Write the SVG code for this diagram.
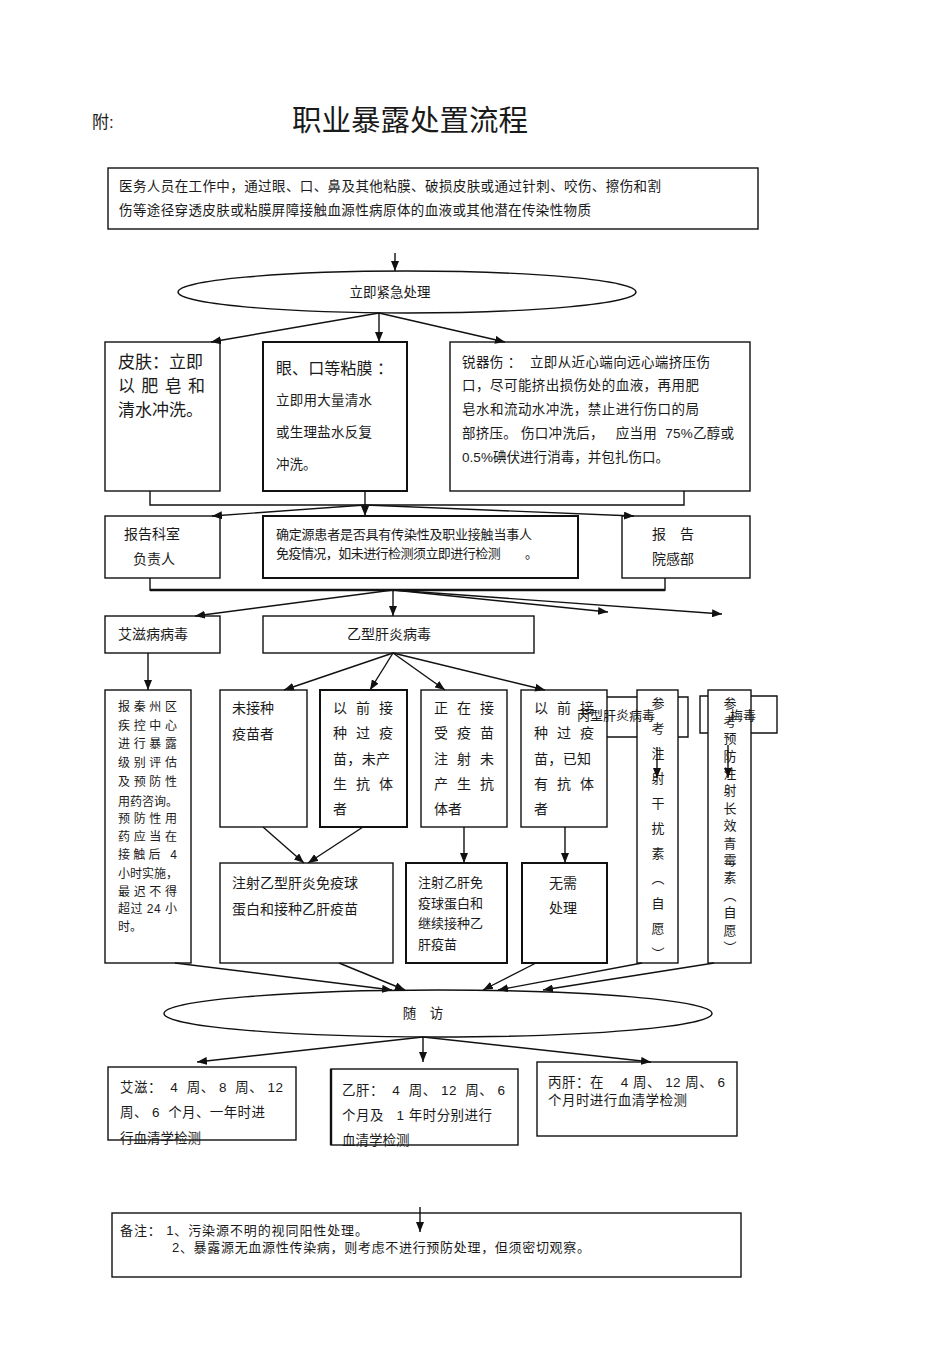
<svg xmlns="http://www.w3.org/2000/svg" width="950" height="1345" viewBox="0 0 950 1345">
<style>
.t{font-family:"Liberation Sans","Noto Sans CJK SC",sans-serif;font-size:13.5px;fill:#1a1a1a;white-space:pre}
.b{fill:#fff;stroke:#111;stroke-width:1.4}
.bk{fill:#fff;stroke:#111;stroke-width:2}
.c{fill:none;stroke:#111;stroke-width:1.4}
.ca{fill:none;stroke:#111;stroke-width:1.4;marker-end:url(#ah)}
.v{font-family:"Liberation Sans","Noto Sans CJK SC",sans-serif;font-size:13px;fill:#1a1a1a;writing-mode:vertical-rl}
</style>
<defs>
<marker id="ah" viewBox="0 0 10 8" refX="10" refY="4" markerWidth="10" markerHeight="8" orient="auto" markerUnits="userSpaceOnUse"><path d="M0,0 L10,4 L0,8 z" fill="#111"/></marker>
</defs>
<rect width="950" height="1345" fill="#fff"/>

<g id="title">
<text class="t" x="92" y="128" style="font-size:17px">附:</text>
<text class="t" x="292" y="131" style="font-size:29px" textLength="236" lengthAdjust="spacingAndGlyphs">职业暴露处置流程</text>
</g>

<g id="n-intro">
<rect class="b" x="108" y="168" width="650" height="61"/>
<text class="t" x="119" y="191" textLength="542">医务人员在工作中，通过眼、口、鼻及其他粘膜、破损皮肤或通过针刺、咬伤、擦伤和割</text>
<text class="t" x="119" y="215" textLength="472">伤等途径穿透皮肤或粘膜屏障接触血源性病原体的血液或其他潜在传染性物质</text>
</g>

<g id="n-emergency">
<ellipse class="b" cx="407" cy="292" rx="229" ry="21"/>
<text class="t" x="390" y="297" text-anchor="middle">立即紧急处理</text>
</g>

<g id="n-skin">
<rect class="b" x="105" y="342" width="115" height="149"/>
<text class="t" x="118" y="368" style="font-size:17px" textLength="85">皮肤：立即</text>
<text class="t" x="118" y="392" style="font-size:17px" textLength="87">以肥皂和</text>
<text class="t" x="118" y="416" style="font-size:17px">清水冲洗。</text>
</g>

<g id="n-mucosa">
<rect class="bk" x="263" y="342" width="144" height="149"/>
<text class="t" x="276" y="374" style="font-size:16px" textLength="117">眼、口等粘膜 ：</text>
<text class="t" x="276" y="405" textLength="96">立即用大量清水</text>
<text class="t" x="276" y="437" textLength="96">或生理盐水反复</text>
<text class="t" x="276" y="469">冲洗。</text>
</g>

<g id="n-sharp">
<rect class="b" x="450" y="342" width="300" height="149"/>
<text class="t" x="462" y="367" textLength="248">锐器伤 ：  立即从近心端向远心端挤压伤</text>
<text class="t" x="462" y="390" textLength="237">口，尽可能挤出损伤处的血液，再用肥</text>
<text class="t" x="462" y="414" textLength="237">皂水和流动水冲洗，禁止进行伤口的局</text>
<text class="t" x="462" y="438" textLength="272">部挤压。 伤口冲洗后，   应当用  75%乙醇或</text>
<text class="t" x="462" y="462" textLength="207">0.5%碘伏进行消毒，并包扎伤口。</text>
</g>

<g id="n-report-dept">
<rect class="b" x="105" y="516" width="115" height="62"/>
<text class="t" x="124" y="539" style="font-size:14px">报告科室</text>
<text class="t" x="133" y="564" style="font-size:14px">负责人</text>
</g>

<g id="n-confirm">
<rect class="bk" x="263" y="516" width="315" height="62"/>
<text class="t" x="276" y="539" style="font-size:13px" textLength="256">确定源患者是否具有传染性及职业接触当事人</text>
<text class="t" x="276" y="558" style="font-size:13px" textLength="262">免疫情况，如未进行检测须立即进行检测　　。</text>
</g>

<g id="n-report-infect">
<rect class="b" x="622" y="516" width="128" height="62"/>
<text class="t" x="652" y="539" style="font-size:14px">报　告</text>
<text class="t" x="652" y="564" style="font-size:14px">院感部</text>
</g>

<g id="n-hiv">
<rect class="b" x="105" y="616" width="115" height="37"/>
<text class="t" x="118" y="639" style="font-size:14px">艾滋病病毒</text>
</g>

<g id="n-hbv">
<rect class="b" x="263" y="616" width="271" height="37"/>
<text class="t" x="347" y="639" style="font-size:14px">乙型肝炎病毒</text>
</g>

<g id="n-hiv-report">
<rect class="b" x="105" y="690" width="86" height="273"/>
<g style="font-size:12px">
<text class="t" x="118" y="711" style="font-size:12px" textLength="59">报秦州区</text>
<text class="t" x="118" y="730" style="font-size:12px" textLength="59">疾控中心</text>
<text class="t" x="118" y="748" style="font-size:12px" textLength="59">进行暴露</text>
<text class="t" x="118" y="767" style="font-size:12px" textLength="59">级别评估</text>
<text class="t" x="118" y="786" style="font-size:12px" textLength="59">及预防性</text>
<text class="t" x="118" y="806" style="font-size:12px">用药咨询。</text>
<text class="t" x="118" y="823" style="font-size:12px" textLength="59">预防性用</text>
<text class="t" x="118" y="841" style="font-size:12px" textLength="59">药应当在</text>
<text class="t" x="118" y="859" style="font-size:12px" textLength="59">接触后 4</text>
<text class="t" x="118" y="878" style="font-size:12px">小时实施，</text>
<text class="t" x="118" y="896" style="font-size:12px" textLength="59">最迟不得</text>
<text class="t" x="118" y="913" style="font-size:12px" textLength="59">超过 24 小</text>
<text class="t" x="118" y="931" style="font-size:12px">时。</text>
</g>
</g>

<g id="n-unvacc">
<rect class="b" x="220" y="690" width="87" height="137"/>
<text class="t" x="232" y="713" style="font-size:14px">未接种</text>
<text class="t" x="232" y="739" style="font-size:14px">疫苗者</text>
</g>

<g id="n-vacc-noab">
<rect class="bk" x="320" y="690" width="87" height="137"/>
<text class="t" x="333" y="713" style="font-size:14px" textLength="60">以 前 接</text>
<text class="t" x="333" y="738" style="font-size:14px" textLength="60">种 过 疫</text>
<text class="t" x="333" y="764" style="font-size:14px" textLength="57">苗，未产</text>
<text class="t" x="333" y="789" style="font-size:14px" textLength="60">生 抗 体</text>
<text class="t" x="333" y="814" style="font-size:14px">者</text>
</g>

<g id="n-vaccinating">
<rect class="b" x="421" y="690" width="86" height="137"/>
<text class="t" x="434" y="713" style="font-size:14px" textLength="60">正 在 接</text>
<text class="t" x="434" y="738" style="font-size:14px" textLength="60">受 疫 苗</text>
<text class="t" x="434" y="764" style="font-size:14px" textLength="60">注 射 未</text>
<text class="t" x="434" y="789" style="font-size:14px" textLength="60">产 生 抗</text>
<text class="t" x="434" y="814" style="font-size:14px">体者</text>
</g>

<g id="n-vacc-ab">
<rect class="b" x="521" y="690" width="86" height="137"/>
<text class="t" x="534" y="713" style="font-size:14px" textLength="60">以 前 接</text>
<text class="t" x="534" y="738" style="font-size:14px" textLength="60">种 过 疫</text>
<text class="t" x="534" y="764" style="font-size:14px" textLength="57">苗，已知</text>
<text class="t" x="534" y="789" style="font-size:14px" textLength="60">有 抗 体</text>
<text class="t" x="534" y="814" style="font-size:14px">者</text>
</g>

<g id="n-hcv-ref">
<rect class="b" x="637" y="690" width="41" height="273"/>
<text class="v" x="657" y="697" style="letter-spacing:12px">参考注射干扰素（自愿）</text>
</g>

<g id="n-syph-ref">
<rect class="b" x="708" y="690" width="43" height="273"/>
<text class="v" x="729" y="697" style="letter-spacing:4.4px">参考预防注射长效青霉素（自愿）</text>
</g>

<g id="n-hbig-vacc">
<rect class="b" x="220" y="863" width="173" height="100"/>
<text class="t" x="232" y="888" style="font-size:14px">注射乙型肝炎免疫球</text>
<text class="t" x="232" y="914" style="font-size:14px">蛋白和接种乙肝疫苗</text>
</g>

<g id="n-hbig-cont">
<rect class="bk" x="406" y="863" width="101" height="100"/>
<text class="t" x="418" y="887" style="font-size:13px">注射乙肝免</text>
<text class="t" x="418" y="908" style="font-size:13px">疫球蛋白和</text>
<text class="t" x="418" y="928" style="font-size:13px">继续接种乙</text>
<text class="t" x="418" y="949" style="font-size:13px">肝疫苗</text>
</g>

<g id="n-none">
<rect class="bk" x="522" y="863" width="85" height="100"/>
<text class="t" x="563" y="888" style="font-size:14px" text-anchor="middle">无需</text>
<text class="t" x="563" y="913" style="font-size:14px" text-anchor="middle">处理</text>
</g>

<g id="n-hcv">
<path class="c" d="M607,697 H637 M678,697 H688 V737 H678 M637,737 H607"/>
<text class="t" x="577" y="720" style="font-size:13px">丙型肝炎病毒</text>
</g>

<g id="n-syph">
<path class="c" d="M708,696 H700 V733 H708 M751,696 H777 V733 H751"/>
<text class="t" x="730" y="720" style="font-size:13px">梅毒</text>
</g>

<g id="n-followup">
<ellipse class="b" cx="438" cy="1013.5" rx="274" ry="23.5"/>
<text class="t" x="423" y="1018" text-anchor="middle">随　访</text>
</g>

<g id="n-fu-hiv">
<rect class="b" x="108" y="1067" width="188" height="73"/>
<text class="t" x="120" y="1092" textLength="163">艾滋：  4  周、 8  周、 12</text>
<text class="t" x="120" y="1117" textLength="145">周、 6  个月、一年时进</text>
<text class="t" x="120" y="1143">行血清学检测</text>
</g>

<g id="n-fu-hbv">
<rect class="b" x="331" y="1069" width="187" height="76"/>
<line x1="331" y1="1069" x2="331" y2="1145" stroke="#111" stroke-width="2.4"/>
<text class="t" x="342" y="1095" textLength="163">乙肝：  4  周、 12  周、 6</text>
<text class="t" x="342" y="1120" textLength="150">个月及   1 年时分别进行</text>
<text class="t" x="342" y="1145">血清学检测</text>
</g>

<g id="n-fu-hcv">
<rect class="b" x="537" y="1062" width="200" height="74"/>
<text class="t" x="548" y="1087" textLength="177">丙肝：在    4 周、 12 周、 6</text>
<text class="t" x="548" y="1105" textLength="139">个月时进行血清学检测</text>
</g>

<g id="n-note">
<rect class="b" x="112" y="1213" width="629" height="64"/>
<text class="t" x="120" y="1235" style="font-size:13px" textLength="248">备注： 1、污染源不明的视同阳性处理。</text>
<text class="t" x="172" y="1252" style="font-size:13px" textLength="418">2、暴露源无血源性传染病，则考虑不进行预防处理，但须密切观察。</text>
</g>

<g id="connectors">
<line class="ca" x1="395" y1="253" x2="395" y2="271"/>
<line class="ca" x1="379" y1="313" x2="211" y2="342"/>
<line class="ca" x1="379" y1="313" x2="379" y2="342"/>
<line class="ca" x1="379" y1="313" x2="505" y2="342"/>
<path class="c" d="M150,491 V505 H684 V491"/>
<line class="ca" x1="365" y1="491" x2="365" y2="516"/>
<line class="ca" x1="365" y1="505" x2="212" y2="516"/>
<line class="ca" x1="365" y1="505" x2="634" y2="516"/>
<path class="c" d="M150,578 V590 H665 V578"/>
<line x1="150" y1="590" x2="665" y2="590" stroke="#111" stroke-width="2.6"/>
<line class="ca" x1="393" y1="590" x2="393" y2="616"/>
<line class="ca" x1="393" y1="590" x2="195" y2="616"/>
<line class="ca" x1="393" y1="590" x2="608" y2="612"/>
<line class="ca" x1="393" y1="590" x2="722" y2="614"/>
<line class="ca" x1="148" y1="653" x2="148" y2="690"/>
<line class="ca" x1="393" y1="653" x2="284" y2="690"/>
<line class="ca" x1="393" y1="653" x2="370" y2="690"/>
<line class="ca" x1="393" y1="653" x2="445" y2="690"/>
<line class="ca" x1="393" y1="653" x2="545" y2="690"/>
<line class="ca" x1="263" y1="827" x2="304" y2="863"/>
<line class="ca" x1="363" y1="827" x2="308" y2="863"/>
<line class="ca" x1="464" y1="827" x2="464" y2="863"/>
<line class="ca" x1="565" y1="827" x2="565" y2="863"/>
<line class="ca" x1="657" y1="747" x2="657" y2="778"/>
<line class="ca" x1="728" y1="745" x2="728" y2="778"/>
<line class="ca" x1="175" y1="963" x2="392" y2="990"/>
<line class="ca" x1="339" y1="963" x2="405" y2="990"/>
<line class="ca" x1="536" y1="963" x2="483" y2="990"/>
<line class="ca" x1="642" y1="963" x2="498" y2="990"/>
<line class="ca" x1="714" y1="963" x2="543" y2="990"/>
<line class="ca" x1="423" y1="1037" x2="197" y2="1062"/>
<line class="ca" x1="423" y1="1037" x2="423" y2="1062"/>
<line class="ca" x1="423" y1="1037" x2="651" y2="1062"/>
<line class="ca" x1="420" y1="1207" x2="420" y2="1232"/>
</g>
</svg>
